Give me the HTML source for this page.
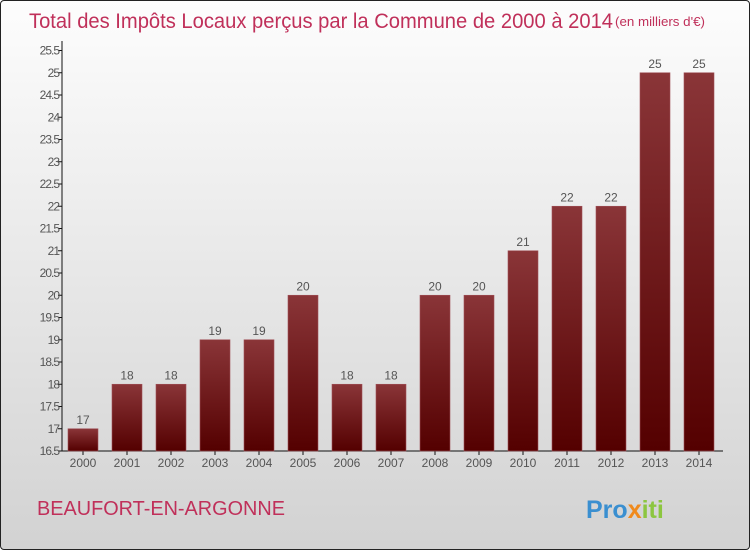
<!DOCTYPE html>
<html><head><meta charset="utf-8"><style>
body{margin:0;width:750px;height:550px;overflow:hidden;font-family:"Liberation Sans",sans-serif}
#c{position:absolute;left:0;top:0;width:748px;height:548px;border:1px solid #222;border-radius:4px;background:linear-gradient(#fdfdfd,#d2d2d2)}
</style></head><body>
<div id="c">
<svg width="750" height="550">
<defs><linearGradient id="g" x1="0" y1="0" x2="0" y2="1"><stop offset="0" stop-color="#8a3538"/><stop offset="1" stop-color="#540000"/></linearGradient></defs>
<text x="28" y="27" font-size="21" fill="#c0305a" textLength="584" lengthAdjust="spacingAndGlyphs">Total des Impôts Locaux perçus par la Commune de 2000 à 2014</text>
<text x="614" y="25" font-size="13" fill="#c0305a" textLength="90" lengthAdjust="spacingAndGlyphs">(en milliers d'€)</text>
<g id="axes"></g><g id="bars"></g>
<text x="36" y="514" font-size="20" fill="#c0305a" textLength="248" lengthAdjust="spacingAndGlyphs">BEAUFORT-EN-ARGONNE</text>
<text x="585" y="517" font-size="25" font-weight="bold"><tspan fill="#3a8fd0">Pro</tspan><tspan fill="#f08a1c">x</tspan><tspan fill="#8cc63f">iti</tspan></text>
</svg></div>
<script>
const years=["2000","2001","2002","2003","2004","2005","2006","2007","2008","2009","2010","2011","2012","2013","2014"];
const values=[17,18,18,19,19,20,18,18,20,20,21,22,22,25,25];
const yTicks=[16.5,17,17.5,18,18.5,19,19.5,20,20.5,21,21.5,22,22.5,23,23.5,24,24.5,25,25.5];
const NS="http://www.w3.org/2000/svg";
const y=v=>450-(v-16.5)*44.5, x=i=>82+i*44;
function mk(t,a,p,txt){const e=document.createElementNS(NS,t);for(const k in a)e.setAttribute(k,a[k]);if(txt!==undefined)e.textContent=txt;p.appendChild(e);return e;}
const ax=document.getElementById('axes'),bs=document.getElementById('bars');
let e=mk('line',{x1:61,y1:40,x2:61,y2:450,stroke:'#111'},ax);
e=mk('line',{x1:61,y1:450,x2:722,y2:450,stroke:'#111'},ax);
yTicks.forEach(v=>{mk('line',{x1:57,x2:61,y1:y(v),y2:y(v),stroke:'#111'},ax);
e=mk('text',{x:58,y:y(v)+4,'font-size':12,'text-anchor':'end',fill:'#555','letter-spacing':'-1'},ax,String(v));
});
years.forEach((yr,i)=>{mk('line',{x1:x(i),x2:x(i),y1:450,y2:454,stroke:'#111'},ax);
e=mk('text',{x:x(i),y:466,'font-size':12,'text-anchor':'middle',fill:'#555'},ax,yr);

e=mk('rect',{x:x(i)-15,y:y(values[i]),width:30,height:450-y(values[i]),fill:'url(#g)',stroke:'#a05058','stroke-width':0.6},bs);

e=mk('text',{x:x(i),y:y(values[i])-5,'font-size':12,'text-anchor':'middle',fill:'#555'},bs,String(values[i]));
});
</script>
</body></html>
